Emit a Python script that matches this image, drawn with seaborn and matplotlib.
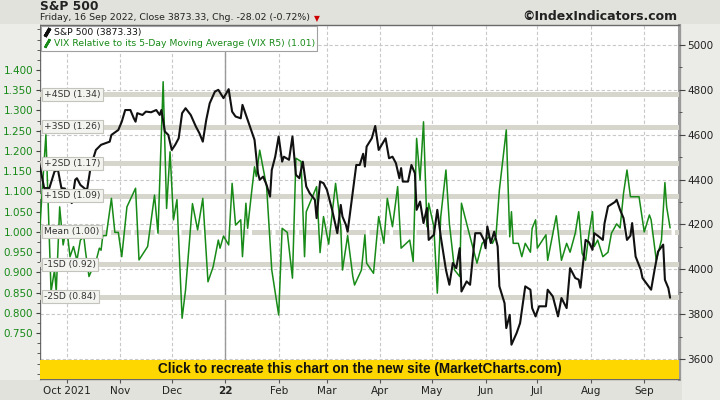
import matplotlib
matplotlib.use("Agg")
import matplotlib.pyplot as plt
from matplotlib.lines import Line2D
from matplotlib.patches import Rectangle
from matplotlib.ticker import MultipleLocator, FormatStrFormatter
from matplotlib.transforms import blended_transform_factory
import seaborn as sns
import pandas as pd

# S&P 500 close
spx_dates = [
    "2021-09-15", "2021-09-18", "2021-09-21", "2021-09-24", "2021-09-26", "2021-09-28", "2021-09-30",
    "2021-10-04", "2021-10-06", "2021-10-07", "2021-10-09", "2021-10-12", "2021-10-13", "2021-10-15",
    "2021-10-18", "2021-10-21", "2021-10-26", "2021-10-27", "2021-10-31", "2021-11-02", "2021-11-04",
    "2021-11-07", "2021-11-09", "2021-11-10", "2021-11-11", "2021-11-14", "2021-11-16", "2021-11-19",
    "2021-11-22", "2021-11-24", "2021-11-25", "2021-11-27", "2021-11-29", "2021-12-01", "2021-12-03",
    "2021-12-05", "2021-12-07", "2021-12-09", "2021-12-12", "2021-12-15", "2021-12-17", "2021-12-19",
    "2021-12-21", "2021-12-23", "2021-12-26", "2021-12-28", "2021-12-31", "2022-01-03", "2022-01-05",
    "2022-01-07", "2022-01-10", "2022-01-11", "2022-01-14", "2022-01-16", "2022-01-18", "2022-01-20",
    "2022-01-21", "2022-01-23", "2022-01-25", "2022-01-27", "2022-01-28", "2022-01-30", "2022-02-01",
    "2022-02-03", "2022-02-04", "2022-02-07", "2022-02-09", "2022-02-11", "2022-02-13", "2022-02-15",
    "2022-02-17", "2022-02-19", "2022-02-22", "2022-02-23", "2022-02-25", "2022-02-27", "2022-03-01",
    "2022-03-04", "2022-03-07", "2022-03-09", "2022-03-10", "2022-03-12", "2022-03-13", "2022-03-16",
    "2022-03-18", "2022-03-20", "2022-03-22", "2022-03-23", "2022-03-24", "2022-03-27", "2022-03-29",
    "2022-03-31", "2022-04-04", "2022-04-06", "2022-04-08", "2022-04-10", "2022-04-12", "2022-04-13",
    "2022-04-14", "2022-04-17", "2022-04-19", "2022-04-21", "2022-04-22", "2022-04-24", "2022-04-26",
    "2022-04-28", "2022-04-29", "2022-05-02", "2022-05-04", "2022-05-06", "2022-05-09", "2022-05-11",
    "2022-05-13", "2022-05-15", "2022-05-17", "2022-05-18", "2022-05-21", "2022-05-23", "2022-05-26",
    "2022-05-29", "2022-05-31", "2022-06-01", "2022-06-02", "2022-06-04", "2022-06-06", "2022-06-08",
    "2022-06-09", "2022-06-12", "2022-06-13", "2022-06-15", "2022-06-16", "2022-06-19", "2022-06-21",
    "2022-06-24", "2022-06-27", "2022-06-28", "2022-06-30", "2022-07-02", "2022-07-06", "2022-07-07",
    "2022-07-10", "2022-07-13", "2022-07-15", "2022-07-18", "2022-07-20", "2022-07-23", "2022-07-25",
    "2022-07-26", "2022-07-29", "2022-07-31", "2022-08-02", "2022-08-03", "2022-08-05", "2022-08-08",
    "2022-08-09", "2022-08-11", "2022-08-15", "2022-08-16", "2022-08-18", "2022-08-20", "2022-08-22",
    "2022-08-24", "2022-08-25", "2022-08-27", "2022-08-30", "2022-08-31", "2022-09-05", "2022-09-07",
    "2022-09-09", "2022-09-12", "2022-09-13", "2022-09-15", "2022-09-16",
]
spx_close = [
    4480, 4362, 4362, 4436, 4443, 4362, 4360,
    4295, 4399, 4406, 4376, 4357, 4360, 4458,
    4532, 4555, 4569, 4599, 4621, 4658, 4710,
    4710, 4673, 4658, 4696, 4688, 4703, 4700,
    4710, 4688, 4710, 4614, 4599, 4532, 4555,
    4584, 4696, 4718, 4688, 4636, 4607, 4569,
    4666, 4740, 4792, 4800, 4763, 4803, 4703,
    4681, 4673, 4733, 4666, 4621, 4577, 4428,
    4399, 4413, 4376, 4324, 4443, 4502, 4592,
    4480, 4502, 4488, 4592, 4421, 4406, 4480,
    4369, 4339, 4310, 4228, 4391, 4384, 4354,
    4265, 4161, 4287, 4235, 4198, 4168, 4347,
    4465, 4465, 4515, 4458, 4547, 4584, 4639,
    4532, 4584, 4495, 4502, 4473, 4406, 4451,
    4391, 4391, 4465, 4428, 4265, 4302, 4206,
    4273, 4131, 4154, 4265, 4146, 3998, 3931,
    4028, 4005, 4094, 3901, 3946, 3931, 4161,
    4161, 4131, 4094, 4191, 4117, 4168, 4102,
    3924, 3849, 3738, 3797, 3664, 3716, 3760,
    3924, 3909, 3827, 3790, 3835, 3835, 3909,
    3879, 3790, 3872, 3827, 4005, 3961, 3954,
    3918, 4131, 4120, 4087, 4161, 4150, 4131,
    4206, 4280, 4300, 4310, 4265, 4228, 4131,
    4150, 4206, 4057, 3998, 3961, 3909, 3998,
    4079, 4110, 3953, 3916, 3873.33,
]

# VIX relative to its 5-day moving average
vix_dates = [
    "2021-09-15", "2021-09-19", "2021-09-22", "2021-09-24", "2021-09-25", "2021-09-27", "2021-09-29",
    "2021-10-01", "2021-10-03", "2021-10-05", "2021-10-07", "2021-10-09", "2021-10-11", "2021-10-12",
    "2021-10-14", "2021-10-16", "2021-10-18", "2021-10-20", "2021-10-21", "2021-10-22", "2021-10-24",
    "2021-10-27", "2021-10-29", "2021-10-31", "2021-11-02", "2021-11-05", "2021-11-10", "2021-11-12",
    "2021-11-17", "2021-11-21", "2021-11-23", "2021-11-26", "2021-11-28", "2021-11-30", "2021-12-02",
    "2021-12-04", "2021-12-07", "2021-12-09", "2021-12-13", "2021-12-16", "2021-12-19", "2021-12-22",
    "2021-12-25", "2021-12-28", "2021-12-29", "2021-12-31", "2022-01-03", "2022-01-05", "2022-01-07",
    "2022-01-10", "2022-01-11", "2022-01-13", "2022-01-14", "2022-01-16", "2022-01-18", "2022-01-19",
    "2022-01-21", "2022-01-25", "2022-01-28", "2022-02-01", "2022-02-03", "2022-02-06", "2022-02-09",
    "2022-02-11", "2022-02-14", "2022-02-16", "2022-02-17", "2022-02-23", "2022-02-25", "2022-02-27",
    "2022-03-02", "2022-03-06", "2022-03-09", "2022-03-10", "2022-03-13", "2022-03-16", "2022-03-17",
    "2022-03-21", "2022-03-23", "2022-03-24", "2022-03-28", "2022-03-31", "2022-04-03", "2022-04-05",
    "2022-04-08", "2022-04-11", "2022-04-13", "2022-04-18", "2022-04-20", "2022-04-22", "2022-04-24",
    "2022-04-26", "2022-04-28", "2022-04-29", "2022-05-02", "2022-05-04", "2022-05-06", "2022-05-09",
    "2022-05-11", "2022-05-14", "2022-05-17", "2022-05-18", "2022-05-21", "2022-05-23", "2022-05-27",
    "2022-05-30", "2022-06-03", "2022-06-05", "2022-06-07", "2022-06-09", "2022-06-13", "2022-06-15",
    "2022-06-16", "2022-06-17", "2022-06-20", "2022-06-22", "2022-06-24", "2022-06-27", "2022-06-28",
    "2022-06-30", "2022-07-01", "2022-07-06", "2022-07-07", "2022-07-12", "2022-07-15", "2022-07-18",
    "2022-07-20", "2022-07-23", "2022-07-25", "2022-07-27", "2022-07-29", "2022-07-31", "2022-08-02",
    "2022-08-03", "2022-08-05", "2022-08-08", "2022-08-11", "2022-08-13", "2022-08-16", "2022-08-18",
    "2022-08-20", "2022-08-22", "2022-08-24", "2022-08-29", "2022-09-01", "2022-09-04", "2022-09-05",
    "2022-09-08", "2022-09-11", "2022-09-13", "2022-09-14", "2022-09-16",
]
vix_r5 = [
    0.980, 1.240, 0.853, 0.906, 0.853, 1.062, 0.968,
    1.013, 0.939, 0.964, 0.930, 0.980, 0.988, 0.951,
    0.890, 0.910, 0.927, 0.960, 0.955, 0.991, 0.991,
    1.083, 0.999, 0.999, 0.939, 1.062, 1.108, 0.931,
    0.964, 1.091, 0.997, 1.371, 1.058, 1.198, 1.030,
    1.080, 0.787, 0.857, 1.070, 1.005, 1.083, 0.877,
    0.914, 0.980, 0.960, 0.990, 0.968, 1.120, 1.017,
    1.030, 0.939, 1.071, 1.009, 1.087, 1.161, 1.137,
    1.202, 1.112, 0.906, 0.795, 1.009, 0.999, 0.886,
    1.182, 1.174, 0.939, 1.050, 1.112, 0.949, 1.038,
    0.970, 1.120, 1.013, 0.906, 0.991, 0.890, 0.869,
    0.906, 0.993, 0.923, 0.898, 1.038, 0.972, 1.083,
    1.013, 1.112, 0.960, 0.980, 0.927, 1.231, 1.128,
    1.272, 1.013, 1.071, 1.013, 0.849, 1.038, 1.153,
    1.021, 0.906, 0.890, 1.071, 1.021, 0.988, 0.923,
    0.972, 0.988, 0.972, 0.990, 1.104, 1.252, 0.988,
    1.050, 0.972, 0.972, 0.939, 0.972, 0.950, 1.009,
    1.030, 0.960, 0.993, 0.930, 1.040, 0.930, 0.972,
    0.950, 0.997, 1.050, 0.947, 0.930, 0.997, 1.050,
    0.964, 0.980, 0.939, 0.950, 0.997, 1.020, 1.010,
    1.096, 1.153, 1.087, 1.087, 1.000, 1.042, 1.030,
    0.930, 0.980, 1.122, 1.062, 1.010,
]

sd_levels = [1.34, 1.26, 1.17, 1.09, 1.00, 0.92, 0.84]
sd_labels = ["+4SD (1.34)", "+3SD (1.26)", "+2SD (1.17)", "+1SD (1.09)",
             "Mean (1.00)", "-1SD (0.92)", "-2SD (0.84)"]

price_ticks = [3600, 3800, 4000, 4200, 4400, 4600, 4800, 5000]
vix_ticks = [0.75, 0.80, 0.85, 0.90, 0.95, 1.00, 1.05, 1.10, 1.15, 1.20, 1.25, 1.30, 1.35, 1.40]
month_ticks = pd.date_range("2021-10-01", "2022-09-01", freq="MS")
month_labels = ["Oct 2021", "Nov", "Dec", "22", "Feb", "Mar", "Apr", "May", "Jun", "Jul", "Aug", "Sep"]

spx = pd.DataFrame({"date": pd.to_datetime(spx_dates), "close": spx_close})
vix = pd.DataFrame({"date": pd.to_datetime(vix_dates), "r5": vix_r5})

GREEN = "#178a17"
sns.set_theme(style="white")
plt.rcParams["font.family"] = ["DejaVu Sans"]

fig = plt.figure(figsize=(7.2, 4.0), dpi=100, facecolor="#e2e2dc")
# lighter strips behind the two value axes
fig.patches.append(Rectangle((0, 0.05), 40 / 720, 0.89, transform=fig.transFigure,
                             facecolor="#ececE8", edgecolor="none", zorder=0))
fig.patches.append(Rectangle((682 / 720, 0.0), 38 / 720, 0.94, transform=fig.transFigure,
                             facecolor="#ebebe7", edgecolor="none", zorder=0))

rect = [40 / 720, 21 / 400, 639 / 720, 354 / 400]
ax_grid = fig.add_axes(rect)
ax_vix = ax_grid.twinx()
ax_px = ax_grid.twinx()
ax_grid.set_zorder(0)
ax_vix.set_zorder(1)
ax_px.set_zorder(2)
ax_grid.set_facecolor("white")

xmin, xmax = pd.Timestamp("2021-09-15 14:00"), pd.Timestamp("2022-09-21 04:00")
ymin_p, ymax_p = 3511, 5089
ax_grid.set_xlim(xmin, xmax)
ax_grid.set_ylim(ymin_p, ymax_p)
ax_px.set_ylim(ymin_p, ymax_p)
ax_vix.set_ylim(0.637, 1.511)

# grid (bottom layer)
ax_grid.set_yticks(price_ticks)
ax_grid.set_xticks(month_ticks)
ax_grid.set_xticklabels(month_labels)
ax_grid.grid(True, color="#c8c8c8", lw=0.8, ls=(0, (3, 2)))
ax_grid.axvline(pd.Timestamp("2022-01-01"), color="#9a9a9a", lw=1.0)
ax_grid.tick_params(axis="y", left=False, right=False, labelleft=False, labelright=False)
ax_grid.tick_params(axis="x", bottom=True, length=3, width=0.8, color="#555555",
                    labelsize=7.5, labelcolor="#222222", pad=2)
ax_grid.get_xticklabels()[3].set_fontweight("bold")
for s in ["left", "bottom", "top"]:
    ax_grid.spines[s].set_color("#6a6a6a")
    ax_grid.spines[s].set_linewidth(1.0)
ax_grid.spines["right"].set_color("#9a9a9a")
ax_grid.spines["right"].set_linewidth(2.2)

# SD bands, VIX R5 line
for lvl, lab in zip(sd_levels, sd_labels):
    if lab.startswith("Mean"):
        ax_vix.axhline(lvl, color="#d6d6cc", lw=3.6, ls=(0, (4, 0.7)), zorder=1)
    else:
        ax_vix.axhline(lvl, color="#d6d6cc", lw=3.6, zorder=1)

sns.lineplot(data=vix, x="date", y="r5", ax=ax_vix, color=GREEN, lw=1.1, zorder=2)
ax_vix.yaxis.tick_left()
ax_vix.set_yticks(vix_ticks)
ax_vix.yaxis.set_major_formatter(FormatStrFormatter("%.3f"))
ax_vix.yaxis.set_minor_locator(MultipleLocator(0.025))
ax_vix.tick_params(axis="y", which="major", left=True, length=3, width=0.8, color="#444444",
                   labelsize=7.5, labelcolor=GREEN, pad=2)
ax_vix.tick_params(axis="y", which="minor", left=True, length=2, width=0.6, color="#444444")
ax_vix.set_xlabel("")
ax_vix.set_ylabel("")
for s in ax_vix.spines.values():
    s.set_visible(False)

# S&P 500 line (top layer)
sns.lineplot(data=spx, x="date", y="close", ax=ax_px, color="#111111", lw=1.5, zorder=2)
ax_px.set_xlim(xmin, xmax)
ax_px.set_yticks(price_ticks)
ax_px.yaxis.set_minor_locator(MultipleLocator(100))
ax_px.tick_params(axis="y", which="major", right=True, length=4, width=0.8, color="#444444",
                  labelsize=7.5, labelcolor="#222222", pad=2)
ax_px.tick_params(axis="y", which="minor", right=True, length=2, width=0.6, color="#444444")
ax_px.set_xlabel("")
ax_px.set_ylabel("")
for s in ax_px.spines.values():
    s.set_visible(False)

# SD labels sit above both lines
lab_tr = blended_transform_factory(ax_px.transAxes, ax_vix.transData)
for lvl, lab in zip(sd_levels, sd_labels):
    ax_px.text(0.007, lvl, lab, transform=lab_tr, fontsize=6.6,
               color="#333333", va="center", ha="left", zorder=4,
               bbox=dict(boxstyle="square,pad=0.22", fc="#f3f3ef", ec="#c4c4bc", lw=0.8))

# yellow banner
ax_px.add_patch(Rectangle((0, 0), 1, 0.054, transform=ax_px.transAxes,
                          facecolor="#ffd700", edgecolor="none", zorder=5))
ax_px.text(0.5, 0.027, "Click to recreate this chart on the new site (MarketCharts.com)",
           transform=ax_px.transAxes, ha="center", va="center", fontsize=9.8,
           fontweight="bold", color="#111111", zorder=6, family="Liberation Sans")

# legend
handles = [
    Line2D([], [], color="#111111", marker=(2, 2, -30), ms=7, mew=2.4, ls="none"),
    Line2D([], [], color=GREEN, marker=(2, 2, -30), ms=7, mew=1.8, ls="none"),
]
leg = ax_px.legend(handles, ["S&P 500 (3873.33)",
                             "VIX Relative to its 5-Day Moving Average (VIX R5) (1.01)"],
                   loc="upper left", bbox_to_anchor=(0.0015, 0.998), fontsize=6.7,
                   frameon=True, fancybox=False, edgecolor="#a0a0a0", framealpha=1,
                   handlelength=0.7, handletextpad=0.35, borderpad=0.3, labelspacing=0.15,
                   borderaxespad=0.0, labelcolor=["#111111", GREEN])
leg.set_zorder(7)
leg.get_frame().set_linewidth(0.8)

# titles
fig.text(40 / 720, 1 - 7 / 400, "S&P 500", fontsize=8.8, fontweight="bold",
         color="#222222", ha="left", va="center")
sub = fig.text(40 / 720, 1 - 18 / 400, "Friday, 16 Sep 2022, Close 3873.33, Chg. -28.02 (-0.72%)",
               fontsize=6.75, color="#222222", ha="left", va="center")
fig.canvas.draw()
sub_end = sub.get_window_extent().x1
fig.text((sub_end + 7) / 720, 1 - 19 / 400, "\u25bc", fontsize=5.5, color="#cc0000",
         ha="center", va="center")
fig.text(677 / 720, 1 - 17 / 400, "\u00a9IndexIndicators.com", fontsize=9, fontweight="bold",
         color="#222222", ha="right", va="center")

fig.savefig("out.png", dpi=100, facecolor=fig.get_facecolor())
